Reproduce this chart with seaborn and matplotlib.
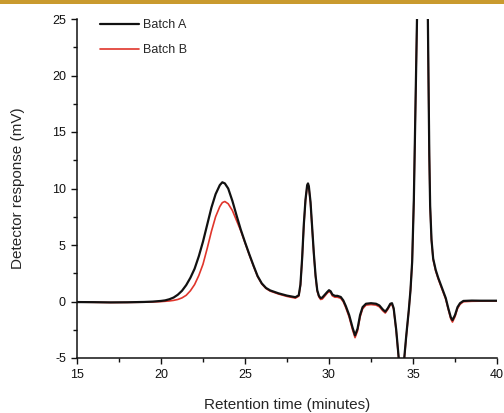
import matplotlib
matplotlib.use("Agg")
import matplotlib.pyplot as plt
from matplotlib.patches import Rectangle
from matplotlib.ticker import MultipleLocator
import numpy as np
import pandas as pd
import seaborn as sns

# Retention time (minutes)
time_min = [
    15.0, 16.0, 17.0, 18.0, 19.0, 19.5, 20.0, 20.25, 20.5, 20.75,
    21.0, 21.25, 21.5, 21.75, 22.0, 22.25, 22.5, 22.75, 23.0, 23.25,
    23.5, 23.65, 23.8, 24.0, 24.25, 24.5, 24.75, 25.0, 25.25, 25.5,
    25.75, 26.0, 26.25, 26.5, 27.0, 27.5, 28.0, 28.2, 28.3, 28.4,
    28.5, 28.6, 28.7, 28.75, 28.8, 28.9, 29.0, 29.1, 29.2, 29.3,
    29.4, 29.5, 29.6, 29.75, 29.9, 30.0, 30.1, 30.2, 30.35, 30.5,
    30.7, 30.85, 31.0, 31.2, 31.4, 31.55, 31.7, 31.85, 32.0, 32.2,
    32.5, 32.8, 33.0, 33.2, 33.35, 33.5, 33.65, 33.75, 33.85, 34.0,
    34.15, 34.3, 34.45, 34.6, 34.75, 34.85, 34.95, 35.05, 35.15, 35.25,
    35.4, 35.55, 35.7, 35.85, 35.92, 35.97, 36.02, 36.1, 36.2, 36.35,
    36.5, 36.65, 36.8, 36.95, 37.1, 37.25, 37.35, 37.5, 37.65, 37.8,
    38.0, 38.5, 39.0, 40.0,
]

# Detector response (mV), Batch A
batch_a = [
    -0.05, -0.06, -0.08, -0.07, -0.04, -0.01, 0.05, 0.10, 0.20, 0.35,
    0.60, 0.95, 1.45, 2.10, 2.90, 4.00, 5.30, 6.80, 8.30, 9.50,
    10.30, 10.55, 10.45, 10.00, 8.90, 7.60, 6.35, 5.25, 4.20, 3.20,
    2.25, 1.60, 1.20, 0.98, 0.72, 0.52, 0.38, 0.55, 1.50, 3.80,
    6.80, 9.00, 10.30, 10.45, 10.20, 8.80, 6.50, 4.20, 2.30, 1.00,
    0.50, 0.30, 0.35, 0.60, 0.85, 1.00, 0.90, 0.62, 0.50, 0.50,
    0.40, 0.10, -0.40, -1.20, -2.30, -3.00, -2.40, -1.20, -0.50, -0.20,
    -0.15, -0.20, -0.35, -0.70, -0.90, -0.60, -0.20, -0.15, -0.60, -2.50,
    -5.00, -6.50, -5.50, -3.00, -0.75, 1.00, 3.50, 9.00, 17.50, 26.0,
    40.0, 45.0, 40.0, 30.0, 20.0, 13.0, 8.5, 5.5, 3.8, 2.8,
    2.1, 1.5, 0.9, 0.3, -0.6, -1.4, -1.65, -1.2, -0.5, -0.15,
    0.05, 0.08, 0.07, 0.07,
]

# Detector response (mV), Batch B
batch_b = [
    -0.05, -0.07, -0.09, -0.08, -0.06, -0.04, -0.01, 0.02, 0.05, 0.10,
    0.18, 0.32, 0.55, 0.95, 1.50, 2.30, 3.30, 4.70, 6.20, 7.50,
    8.40, 8.75, 8.85, 8.65, 8.05, 7.15, 6.25, 5.20, 4.15, 3.15,
    2.20, 1.55, 1.15, 0.92, 0.66, 0.45, 0.30, 0.47, 1.40, 3.70,
    6.70, 8.90, 10.20, 10.35, 10.10, 8.70, 6.40, 4.10, 2.20, 0.90,
    0.40, 0.18, 0.22, 0.48, 0.75, 0.88, 0.78, 0.50, 0.38, 0.38,
    0.28, -0.02, -0.55, -1.38, -2.50, -3.20, -2.60, -1.38, -0.65, -0.32,
    -0.27, -0.32, -0.47, -0.82, -1.02, -0.70, -0.30, -0.25, -0.70, -2.60,
    -5.10, -6.60, -5.60, -3.10, -0.80, 0.95, 3.45, 8.95, 17.45, 25.9,
    39.5, 44.5, 39.5, 29.8, 19.8, 12.9, 8.4, 5.4, 3.7, 2.7,
    2.0, 1.4, 0.8, 0.2, -0.7, -1.55, -1.82, -1.35, -0.62, -0.25,
    -0.02, 0.02, 0.03, 0.04,
]

batches = ["Batch A", "Batch B"]
colors = {"Batch A": "#111111", "Batch B": "#e0352b"}
widths = {"Batch A": 1.6, "Batch B": 1.2}

df = pd.concat([
    pd.DataFrame({"time": time_min, "response": batch_a, "batch": "Batch A"}),
    pd.DataFrame({"time": time_min, "response": batch_b, "batch": "Batch B"}),
], ignore_index=True)

sns.set_style("ticks")
plt.rcParams["font.family"] = ["Liberation Sans", "DejaVu Sans"]
plt.rcParams["axes.unicode_minus"] = False

fig = plt.figure(figsize=(5.04, 4.13), dpi=100)
ax = fig.add_axes([77 / 504, 55 / 413, 420 / 504, 339 / 413])

# Batch B underneath, Batch A on top
for name, z in (("Batch B", 2), ("Batch A", 3)):
    sub = df[df["batch"] == name]
    sns.lineplot(data=sub, x="time", y="response", ax=ax, color=colors[name],
                 lw=widths[name], estimator=None, sort=False, label=name,
                 zorder=z)

ax.set_xlim(15, 40)
ax.set_ylim(-5, 25)
ax.xaxis.set_major_locator(MultipleLocator(5))
ax.xaxis.set_minor_locator(MultipleLocator(2.5))
ax.yaxis.set_major_locator(MultipleLocator(5))
ax.yaxis.set_minor_locator(MultipleLocator(2.5))

for side in ("top", "right"):
    ax.spines[side].set_visible(False)
for side in ("left", "bottom"):
    ax.spines[side].set_linewidth(1.1)
    ax.spines[side].set_color("#111111")

ax.tick_params(which="major", direction="out", length=4, width=1.0,
               labelsize=9, colors="#111111", pad=4)
ax.tick_params(which="minor", direction="out", length=3, width=1.0,
               colors="#111111")

ax.set_xlabel("Retention time (minutes)", fontsize=11, labelpad=12)
ax.set_ylabel("Detector response (mV)", fontsize=11, labelpad=19)

handles, labels = ax.get_legend_handles_labels()
order = [labels.index(b) for b in batches]
leg = ax.legend([handles[i] for i in order], [labels[i] for i in order],
                loc="upper left", bbox_to_anchor=(0.055, 1.0), frameon=False,
                fontsize=9, handlelength=3.1, handletextpad=0.3,
                labelspacing=1.05, borderpad=0, borderaxespad=0)

# Gold rule along the top edge
fig.add_artist(Rectangle((0, 1 - 4 / 413), 1, 4 / 413, transform=fig.transFigure,
                         color="#c99a2e", lw=0))

fig.savefig("out.png", dpi=100)
